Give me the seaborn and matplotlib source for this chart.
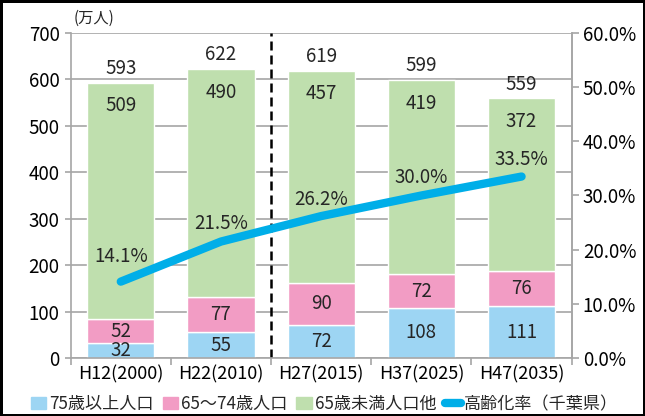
import matplotlib
matplotlib.use("Agg")
import matplotlib.pyplot as plt
import numpy as np
import pandas as pd
import seaborn as sns
from matplotlib.lines import Line2D
from matplotlib.patches import Patch

# data
years = ["H12(2000)", "H22(2010)", "H27(2015)", "H37(2025)", "H47(2035)"]
over75 = [32, 55, 72, 108, 111]
age65_74 = [52, 77, 90, 72, 76]
under65 = [509, 490, 457, 419, 372]
totals = [593, 622, 619, 599, 559]
aging_rate = [14.1, 21.5, 26.2, 30.0, 33.5]

C_BLUE = "#9dd5f3"
C_PINK = "#f29cc4"
C_GREEN = "#bfdfae"
C_LINE = "#00aee8"
GRID = "#a6a6a6"
FS = 13.5

sns.set_theme(style="white")
plt.rcParams["font.family"] = ["Noto Sans CJK JP", "DejaVu Sans"]

df = pd.DataFrame({
    "year": years,
    "over75": over75,
    "age65_74": age65_74,
    "under65": under65,
})
df["b2"] = df["over75"]
df["b3"] = df["over75"] + df["age65_74"]

fig = plt.figure(figsize=(6.45, 4.16), dpi=100, edgecolor="black", linewidth=2.5)
ax = fig.add_axes([0.1096, 0.1394, 0.7767, 0.7813])

bw = 0.67
sns.barplot(data=df, x="year", y="over75", color=C_BLUE, width=bw, ax=ax, saturation=1)
sns.barplot(data=df, x="year", y="age65_74", bottom=df["b2"], color=C_PINK, width=bw, ax=ax, saturation=1)
sns.barplot(data=df, x="year", y="under65", bottom=df["b3"], color=C_GREEN, width=bw, ax=ax, saturation=1)

ax.set_ylim(0, 700)
ax.set_xlim(-0.5, len(years) - 0.5)
ax.set_yticks(range(0, 701, 100))
ax.yaxis.grid(True, color=GRID, linewidth=1.2)
ax.set_axisbelow(True)
ax.set_xlabel("")
ax.set_ylabel("")
for s in ax.spines.values():
    s.set_color(GRID)
    s.set_linewidth(1.2)
ax.spines["top"].set_visible(False)
ax.tick_params(axis="y", labelsize=FS, colors="black", length=4, color=GRID, width=1.2, left=True, pad=4)
ax.tick_params(axis="x", labelsize=13, colors="black", length=0, pad=5)
ax.set_xticks(np.arange(len(years) + 1) - 0.5, minor=True)
ax.tick_params(axis="x", which="minor", length=5, color=GRID, width=1.2, bottom=True)

# segment labels
x = np.arange(len(years))
for i in x:
    ax.text(i, over75[i] / 2, str(over75[i]), ha="center", va="center", fontsize=FS)
    ax.text(i, over75[i] + age65_74[i] / 2, str(age65_74[i]), ha="center", va="center", fontsize=FS)
    ax.text(i, totals[i] - 50, str(under65[i]), ha="center", va="center", fontsize=FS)
    ax.text(i, totals[i] + 8, str(totals[i]), ha="center", va="bottom", fontsize=FS)

# divider between actual and projection
ax.axvline(1.5, color="black", linestyle=(0, (3.6, 2.0)), linewidth=1.8)

ax.text(-0.47, 714, "(万人)", ha="left", va="bottom", fontsize=11)

ax2 = ax.twinx()
sns.lineplot(x=x, y=aging_rate, ax=ax2, color=C_LINE, linewidth=6, solid_capstyle="round")
ax2.set_ylim(0, 60)
ax2.set_yticks(range(0, 61, 10))
ax2.set_yticklabels([f"{v:.1f}%" for v in range(0, 61, 10)])
ax2.tick_params(axis="y", labelsize=FS, colors="black", length=5, color=GRID, width=1.2, right=True, pad=3)
for s in ax2.spines.values():
    s.set_visible(False)
ax2.spines["right"].set_visible(True)
ax2.spines["right"].set_color(GRID)
ax2.spines["right"].set_linewidth(1.2)
label_off = [18, 13, 12, 13, 12]
for i in x:
    ax2.annotate(f"{aging_rate[i]:.1f}%", (i, aging_rate[i]), xytext=(0, label_off[i]),
                 textcoords="offset points", ha="center", va="center", fontsize=FS)

handles = [
    Patch(color=C_BLUE, label="75歳以上人口"),
    Patch(color=C_PINK, label="65～74歳人口"),
    Patch(color=C_GREEN, label="65歳未満人口他"),
    Line2D([0], [0], color=C_LINE, linewidth=6, solid_capstyle="round", label="高齢化率（千葉県）"),
]
fig.legend(handles=handles, loc="lower center", bbox_to_anchor=(0.503, -0.005), ncol=4,
           frameon=False, fontsize=12.3, handlelength=0.9, handletextpad=0.2,
           columnspacing=0.5, borderpad=0.1, borderaxespad=0.2)

fig.savefig("out.png", dpi=100)
